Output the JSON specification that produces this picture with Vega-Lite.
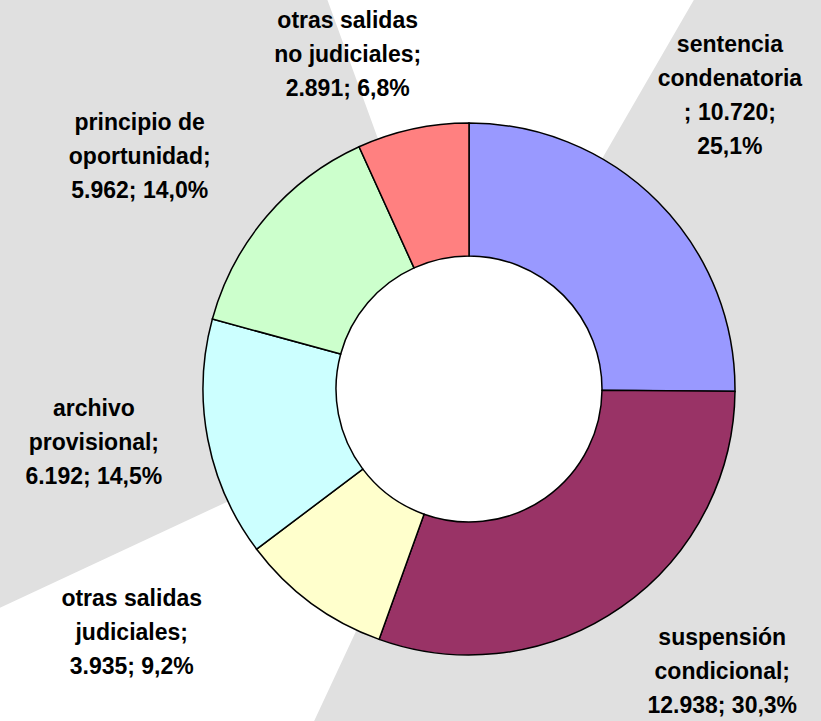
{
  "$schema": "https://vega.github.io/schema/vega-lite/v6.json",
  "width": 704,
  "height": 664,
  "autosize": {"type": "none"},
  "padding": {"left": 117, "top": 57, "right": 0, "bottom": 0},
  "background": "#e0e0e0",
  "config": {"view": {"stroke": null}},
  "data": {
    "values": [
      {"orden": 1, "categoria": "sentencia condenatoria", "casos": 10720, "etiqueta": "sentencia\ncondenatoria\n; 10.720;\n25,1%"},
      {"orden": 2, "categoria": "suspensión condicional", "casos": 12938, "etiqueta": "suspensión\ncondicional;\n12.938; 30,3%"},
      {"orden": 3, "categoria": "otras salidas judiciales", "casos": 3935, "etiqueta": "otras salidas\njudiciales;\n3.935; 9,2%"},
      {"orden": 4, "categoria": "archivo provisional", "casos": 6192, "etiqueta": "archivo\nprovisional;\n6.192; 14,5%"},
      {"orden": 5, "categoria": "principio de oportunidad", "casos": 5962, "etiqueta": "principio de\noportunidad;\n5.962; 14,0%"},
      {"orden": 6, "categoria": "otras salidas no judiciales", "casos": 2891, "etiqueta": "otras salidas\nno judiciales;\n2.891; 6,8%"}
    ]
  },
  "layer": [
    {
      "data": {"values": [{}]},
      "mark": {"type": "arc", "theta": -0.349, "theta2": 0.524, "radius": 800, "radius2": 266, "fill": "white", "stroke": null},
      "encoding": {}
    },
    {
      "data": {"values": [{}]},
      "mark": {"type": "arc", "theta": 3.578, "theta2": 4.276, "radius": 800, "radius2": 266, "fill": "white", "stroke": null},
      "encoding": {}
    },
    {
      "data": {"values": [{}]},
      "mark": {"type": "arc", "theta": 0, "theta2": 6.2832, "radius": 133, "fill": "white", "stroke": null},
      "encoding": {}
    },
    {
      "mark": {"type": "arc", "innerRadius": 133, "outerRadius": 266, "stroke": "black", "strokeWidth": 1.5},
      "encoding": {
        "theta": {"field": "casos", "type": "quantitative", "stack": true},
        "order": {"field": "orden", "type": "quantitative"},
        "color": {
          "field": "categoria",
          "type": "nominal",
          "scale": {
            "domain": ["sentencia condenatoria", "suspensión condicional", "otras salidas judiciales", "archivo provisional", "principio de oportunidad", "otras salidas no judiciales"],
            "range": ["#9999FF", "#993366", "#FFFFCC", "#CCFFFF", "#CCFFCC", "#FF8080"]
          },
          "legend": null
        }
      }
    },
    {
      "mark": {"type": "text", "radius": 380, "dx": -9, "dy": -76, "font": "Liberation Sans", "fontWeight": "bold", "fontSize": 23, "lineBreak": "\n", "lineHeight": 34, "align": "center", "baseline": "middle", "fill": "black"},
      "encoding": {
        "theta": {"field": "casos", "type": "quantitative", "stack": true},
        "order": {"field": "orden", "type": "quantitative"},
        "detail": {"field": "categoria"},
        "text": {"condition": {"test": "datum.categoria === 'sentencia condenatoria'", "field": "etiqueta"}, "value": ""}
      }
    },
    {
      "mark": {"type": "text", "radius": 380, "dx": 36, "dy": -63, "font": "Liberation Sans", "fontWeight": "bold", "fontSize": 23, "lineBreak": "\n", "lineHeight": 34, "align": "center", "baseline": "middle", "fill": "black"},
      "encoding": {
        "theta": {"field": "casos", "type": "quantitative", "stack": true},
        "order": {"field": "orden", "type": "quantitative"},
        "detail": {"field": "categoria"},
        "text": {"condition": {"test": "datum.categoria === 'suspensión condicional'", "field": "etiqueta"}, "value": ""}
      }
    },
    {
      "mark": {"type": "text", "radius": 380, "dx": -112, "dy": -96, "font": "Liberation Sans", "fontWeight": "bold", "fontSize": 23, "lineBreak": "\n", "lineHeight": 34, "align": "center", "baseline": "middle", "fill": "black"},
      "encoding": {
        "theta": {"field": "casos", "type": "quantitative", "stack": true},
        "order": {"field": "orden", "type": "quantitative"},
        "detail": {"field": "categoria"},
        "text": {"condition": {"test": "datum.categoria === 'otras salidas judiciales'", "field": "etiqueta"}, "value": ""}
      }
    },
    {
      "mark": {"type": "text", "radius": 380, "dx": -2, "dy": -52, "font": "Liberation Sans", "fontWeight": "bold", "fontSize": 23, "lineBreak": "\n", "lineHeight": 34, "align": "center", "baseline": "middle", "fill": "black"},
      "encoding": {
        "theta": {"field": "casos", "type": "quantitative", "stack": true},
        "order": {"field": "orden", "type": "quantitative"},
        "detail": {"field": "categoria"},
        "text": {"condition": {"test": "datum.categoria === 'archivo provisional'", "field": "etiqueta"}, "value": ""}
      }
    },
    {
      "mark": {"type": "text", "radius": 380, "dx": -40, "dy": -20, "font": "Liberation Sans", "fontWeight": "bold", "fontSize": 23, "lineBreak": "\n", "lineHeight": 34, "align": "center", "baseline": "middle", "fill": "black"},
      "encoding": {
        "theta": {"field": "casos", "type": "quantitative", "stack": true},
        "order": {"field": "orden", "type": "quantitative"},
        "detail": {"field": "categoria"},
        "text": {"condition": {"test": "datum.categoria === 'principio de oportunidad'", "field": "etiqueta"}, "value": ""}
      }
    },
    {
      "mark": {"type": "text", "radius": 380, "dx": -41, "dy": 3, "font": "Liberation Sans", "fontWeight": "bold", "fontSize": 23, "lineBreak": "\n", "lineHeight": 34, "align": "center", "baseline": "middle", "fill": "black"},
      "encoding": {
        "theta": {"field": "casos", "type": "quantitative", "stack": true},
        "order": {"field": "orden", "type": "quantitative"},
        "detail": {"field": "categoria"},
        "text": {"condition": {"test": "datum.categoria === 'otras salidas no judiciales'", "field": "etiqueta"}, "value": ""}
      }
    }
  ]
}
